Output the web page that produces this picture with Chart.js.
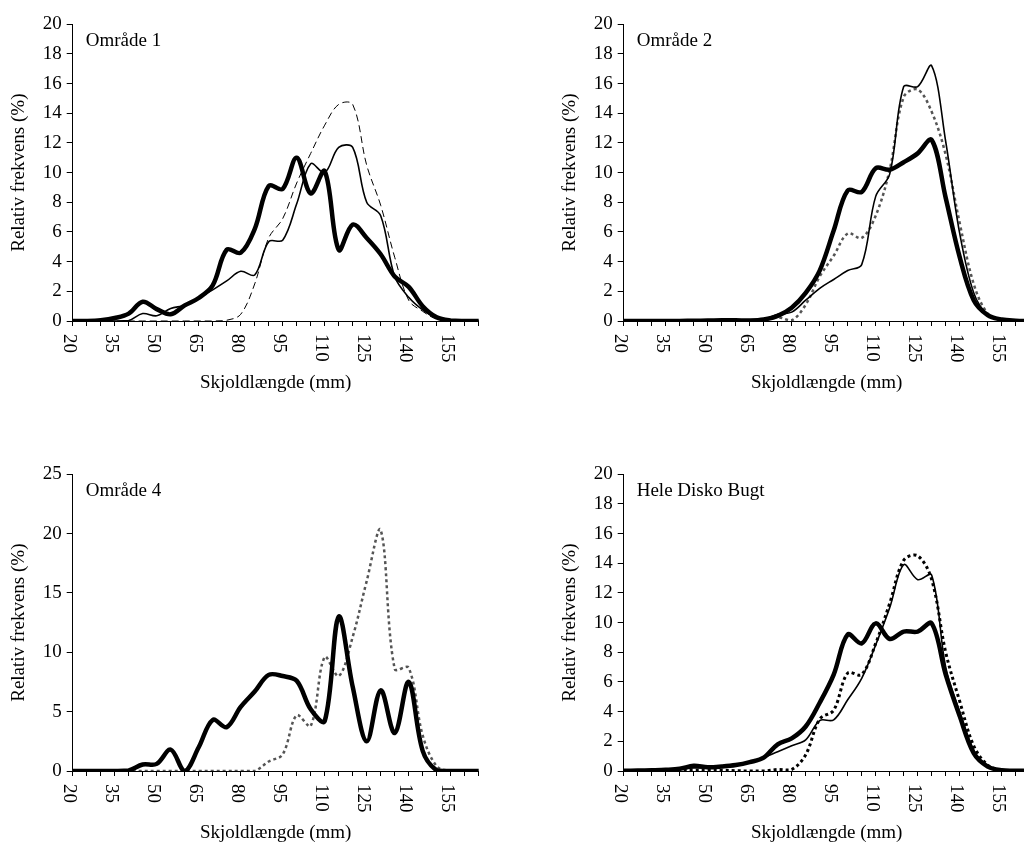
<!DOCTYPE html>
<html>
<head>
<meta charset="utf-8">
<script src="https://cdn.jsdelivr.net/npm/chart.js@4.4.0/dist/chart.umd.min.js"></script>
<style>
  html, body { margin: 0; padding: 0; background: #fff; overflow: hidden; width: 1024px; height: 844px; }
  .panel { position: absolute; width: 500px; height: 400px; }
</style>
</head>
<body>
<div class="panel" style="left:0;top:0"><canvas id="c1" width="500" height="400"></canvas></div>
<div class="panel" style="left:551px;top:0"><canvas id="c2" width="500" height="400"></canvas></div>
<div class="panel" style="left:0;top:450px"><canvas id="c3" width="500" height="400"></canvas></div>
<div class="panel" style="left:551px;top:450px"><canvas id="c4" width="500" height="400"></canvas></div>
<script>
// Skjoldlængde classes (mm)
const lengths = [20, 25, 30, 35, 40, 45, 50, 55, 60, 65, 70, 75, 80, 85, 90,
  95, 100, 105, 110, 115, 120, 125, 130, 135, 140, 145, 150, 155, 160, 165];
const xTickLabels = ['20', '35', '50', '65', '80', '95', '110', '125', '140', '155'];

// Område 1
const omr1Thick = [0, 0, 0.05, 0.2, 0.5, 1.3, 0.8, 0.45, 1.05, 1.55, 2.4, 4.8, 4.6, 6.2, 9.1,
  8.9, 11.0, 8.6, 10.1, 4.8, 6.5, 5.6, 4.5, 3.0, 2.3, 1.0, 0.25, 0.03, 0, 0];
const omr1Thin = [0, 0, 0, 0, 0.03, 0.5, 0.35, 0.85, 1.05, 1.55, 2.1, 2.7, 3.35, 3.1, 5.35,
  5.45, 7.9, 10.6, 10.0, 11.7, 11.7, 8.0, 7.1, 3.0, 1.6, 0.75, 0.2, 0.03, 0, 0];
const omr1Dashed = [0, 0, 0, 0, 0, 0, 0, 0, 0, 0, 0, 0.05, 0.45, 2.5, 5.6,
  6.9, 9.3, 11.3, 13.2, 14.6, 14.6, 10.5, 7.8, 4.3, 1.4, 0.65, 0.12, 0, 0, 0];

// Område 2
const omr2Thick = [0, 0, 0, 0, 0, 0.02, 0.03, 0.05, 0.05, 0.03, 0.1, 0.35, 0.9, 1.9, 3.4,
  6.1, 8.8, 8.7, 10.3, 10.2, 10.7, 11.3, 12.2, 8.3, 4.3, 1.4, 0.4, 0.1, 0.02, 0];
const omr2Thin = [0, 0, 0, 0, 0, 0, 0, 0.05, 0.05, 0.05, 0.1, 0.45, 0.6, 1.4, 2.2,
  2.8, 3.4, 3.8, 8.4, 9.9, 15.8, 15.8, 17.2, 12.1, 5.9, 1.9, 0.4, 0.1, 0.02, 0];
const omr2Dotted = [0, 0, 0, 0, 0, 0, 0, 0, 0, 0, 0.05, 0.25, 0.05, 1.1, 3.0,
  4.4, 5.9, 5.6, 7.1, 10.2, 15.1, 15.6, 14.1, 11.2, 6.6, 2.5, 0.5, 0.1, 0, 0];

// Område 4
const omr4Thick = [0, 0, 0, 0, 0.05, 0.55, 0.6, 1.8, 0, 2.0, 4.3, 3.7, 5.4, 6.7, 8.1,
  8.0, 7.6, 5.2, 4.2, 13.0, 7.1, 2.5, 6.8, 3.2, 7.5, 1.7, 0.05, 0, 0, 0];
const omr4Dotted = [0, 0, 0, 0, 0, 0, 0, 0, 0, 0, 0, 0, 0, 0, 0.8,
  1.4, 4.7, 3.8, 9.6, 8.0, 11.3, 16.0, 20.3, 8.6, 8.7, 3.0, 0.4, 0, 0, 0];

// Hele Disko Bugt
const diskoThick = [0.02, 0.03, 0.05, 0.08, 0.15, 0.35, 0.25, 0.3, 0.4, 0.6, 0.9, 1.8, 2.2, 3.0, 4.6,
  6.5, 9.2, 8.6, 9.95, 8.9, 9.4, 9.4, 9.95, 6.5, 3.7, 1.2, 0.3, 0.05, 0.02, 0];
const diskoThin = [0, 0, 0.02, 0.05, 0.1, 0.2, 0.2, 0.25, 0.35, 0.55, 0.9, 1.3, 1.7, 2.1, 3.4,
  3.45, 4.8, 6.25, 8.5, 11.0, 13.9, 12.9, 13.2, 7.0, 4.0, 1.4, 0.3, 0.05, 0, 0];
const diskoDotted = [0, 0, 0, 0, 0.02, 0.05, 0.05, 0.05, 0.02, 0, 0, 0.1, 0.1, 1.1, 3.5,
  4.1, 6.6, 6.5, 8.6, 11.3, 14.2, 14.5, 12.9, 8.0, 4.7, 1.7, 0.4, 0.05, 0, 0];

const FONT = "'Liberation Serif', 'Times New Roman', serif";
Chart.defaults.font.family = FONT;
Chart.defaults.font.size = 19;
Chart.defaults.color = '#000';

// rotated (clockwise) category labels below the x axis
const xLabelPlugin = {
  id: 'xLabels',
  afterDraw(chart) {
    const xs = chart.scales.x;
    const ctx = chart.ctx;
    ctx.save();
    ctx.font = '19px ' + FONT;
    ctx.fillStyle = '#000';
    ctx.textAlign = 'left';
    ctx.textBaseline = 'alphabetic';
    lengths.forEach((v, i) => {
      if (!xTickLabels.includes(String(v))) return;
      ctx.save();
      ctx.translate(xs.getPixelForValue(i), xs.top + 13);
      ctx.rotate(Math.PI / 2);
      ctx.fillText(String(v), 0, 9);
      ctx.restore();
    });
    ctx.restore();
  }
};

// area name inside the plot
const areaLabelPlugin = {
  id: 'areaLabel',
  afterDraw(chart, args, opts) {
    const { ctx, chartArea } = chart;
    ctx.save();
    ctx.font = '19px ' + FONT;
    ctx.fillStyle = '#000';
    ctx.textAlign = 'left';
    ctx.textBaseline = 'alphabetic';
    ctx.fillText(opts.text, chartArea.left + 13, chartArea.top + 22);
    ctx.restore();
  }
};

function thick(data) {
  return { data, borderColor: '#000', borderWidth: 4.5, pointRadius: 0, tension: 0.35, fill: false };
}
function thin(data) {
  return { data, borderColor: '#000', borderWidth: 1.6, pointRadius: 0, tension: 0.35, fill: false };
}
function dashed(data) {
  return { data, borderColor: '#000', borderWidth: 1, borderDash: [7, 4], pointRadius: 0, tension: 0.35, fill: false };
}
function dotted(data, color, width) {
  return { data, borderColor: color, borderWidth: width, borderDash: [3, 3], pointRadius: 0, tension: 0.35, fill: false };
}

function makeChart(id, name, datasets, yMax, yStep) {
  new Chart(document.getElementById(id), {
    type: 'line',
    data: { labels: lengths.map(String), datasets },
    options: {
      responsive: false,
      animation: false,
      layout: { padding: { top: 24.3, right: 21.3, left: 0, bottom: 0 } },
      plugins: {
        legend: { display: false },
        tooltip: { enabled: false },
        areaLabel: { text: name },
      },
      scales: {
        x: {
          type: 'category',
          offset: false,
          grid: { display: true, drawOnChartArea: false, drawTicks: true, tickLength: 5, color: '#000', lineWidth: 1 },
          border: { display: true, color: '#000', width: 1 },
          ticks: { display: false, autoSkip: false },
          title: {
            display: true,
            text: 'Skjoldlængde (mm)',
            color: '#000',
            font: { size: 19, family: FONT },
            padding: { top: 0, bottom: 5.6 },
          },
          afterFit: (s) => { s.height = 400 - 321; },
        },
        y: {
          min: 0,
          max: yMax,
          grid: { display: true, drawOnChartArea: false, drawTicks: true, tickLength: 6, color: '#000', lineWidth: 1 },
          border: { display: true, color: '#000', width: 1 },
          ticks: { stepSize: yStep, color: '#000', padding: 5, font: { size: 19, family: FONT } },
          title: {
            display: true,
            text: 'Relativ frekvens (%)',
            color: '#000',
            font: { size: 19, family: FONT },
            padding: { top: 8, bottom: 0 },
          },
          afterFit: (s) => { s.width = 72.7; },
        },
      },
    },
    plugins: [xLabelPlugin, areaLabelPlugin],
  });
}

makeChart('c1', 'Område 1', [thick(omr1Thick), thin(omr1Thin), dashed(omr1Dashed)], 20, 2);
makeChart('c2', 'Område 2', [thick(omr2Thick), thin(omr2Thin), dotted(omr2Dotted, '#555', 2.5)], 20, 2);
makeChart('c3', 'Område 4', [thick(omr4Thick), dotted(omr4Dotted, '#555', 2.5)], 25, 5);
makeChart('c4', 'Hele Disko Bugt', [thick(diskoThick), thin(diskoThin), dotted(diskoDotted, '#000', 3)], 20, 2);
</script>
</body>
</html>
